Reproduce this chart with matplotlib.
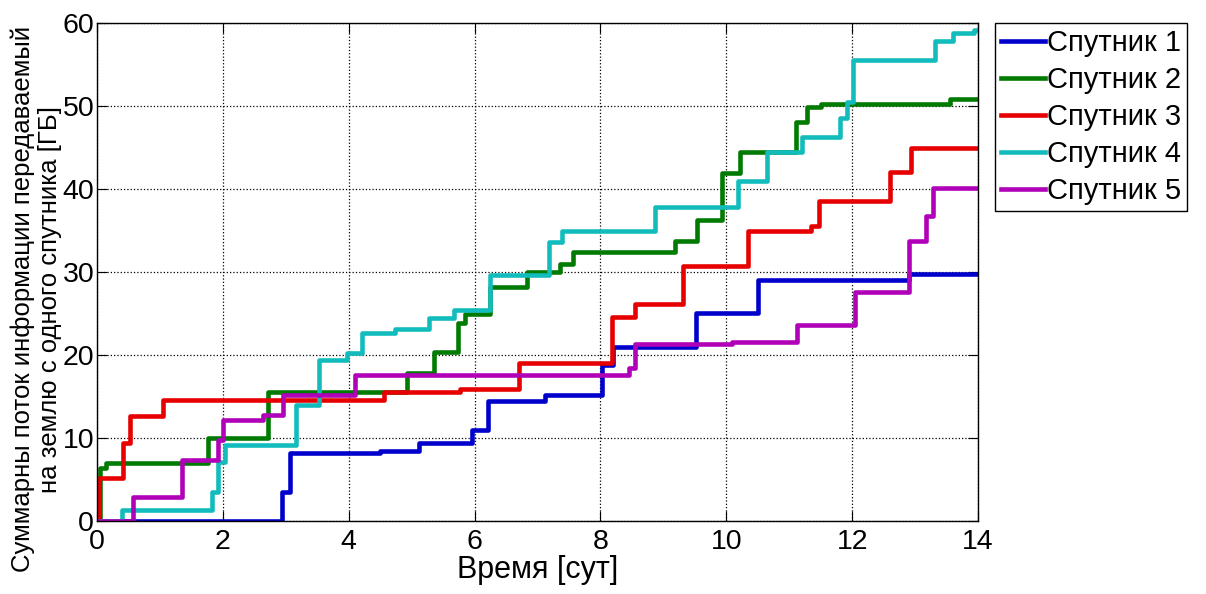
import matplotlib
matplotlib.use('Agg')
import matplotlib.pyplot as plt

plt.rcParams['font.family'] = ['Liberation Sans', 'DejaVu Sans']

# ступенчатые кривые: (время [сут], объём [ГБ])
t1 = [0, 2.94, 3.07, 4.50, 5.11, 5.96, 6.22, 7.12, 8.02, 8.20, 9.52, 10.51, 12.90, 14]
v1 = [0, 3.5, 8.2, 8.4, 9.4, 11.0, 14.4, 15.2, 18.8, 21.0, 25.1, 29.0, 29.8, 29.8]

t2 = [0, 0.05, 0.15, 1.77, 2.72, 4.92, 5.35, 5.74, 5.85, 6.25, 6.83, 7.36, 7.57,
      9.19, 9.53, 9.93, 10.22, 11.10, 11.28, 11.50, 13.56, 14]
v2 = [0, 6.4, 7.0, 10.0, 15.5, 17.8, 20.4, 23.8, 25.0, 28.2, 30.0, 31.0, 32.4,
      33.7, 36.3, 41.9, 44.5, 48.1, 49.9, 50.3, 50.9, 50.9]

t3 = [0, 0.03, 0.42, 0.52, 1.05, 4.56, 5.77, 6.70, 8.18, 8.55, 9.32, 10.34, 11.34,
      11.47, 12.60, 12.93, 14]
v3 = [0, 5.2, 9.4, 12.7, 14.6, 15.6, 15.9, 19.0, 24.6, 26.2, 30.7, 34.9, 35.5,
      38.5, 42.1, 44.9, 44.9]

t4 = [0, 0.39, 1.82, 1.93, 2.04, 3.17, 3.52, 3.97, 4.21, 4.74, 5.27, 5.67, 6.25,
      7.18, 7.39, 8.87, 10.18, 10.65, 11.20, 11.81, 11.92, 12.01, 13.32, 13.61, 13.93, 14]
v4 = [0, 1.3, 3.5, 7.1, 9.2, 14.0, 19.4, 20.3, 22.6, 23.1, 24.4, 25.4, 29.6,
      33.6, 34.9, 37.8, 41.0, 44.5, 46.3, 48.5, 50.5, 55.6, 57.8, 58.8, 59.2, 59.2]

t5 = [0, 0.58, 1.35, 1.93, 2.01, 2.64, 2.96, 4.10, 8.45, 8.55, 10.09, 11.12, 12.05,
      12.90, 13.18, 13.29, 14]
v5 = [0, 2.9, 7.3, 9.7, 12.2, 12.8, 15.2, 17.6, 18.4, 21.3, 21.6, 23.6, 27.6,
      33.7, 36.7, 40.1, 40.1]

names = ['Спутник 1', 'Спутник 2', 'Спутник 3', 'Спутник 4', 'Спутник 5']
colors = ['#0000cc', '#007a00', '#e60000', '#12bcbc', '#b000b8']

fig = plt.figure(figsize=(12.06, 5.94), dpi=100)
ax = fig.add_axes([97/1206, 1 - 521/594, 881/1206, 498/594])

for t, v, nm, c in zip([t1, t2, t3, t4, t5], [v1, v2, v3, v4, v5], names, colors):
    ax.step(t, v, where='post', color=c, lw=3.3, label=nm)

ax.set_xlim(0, 14)
ax.set_ylim(0, 60)
ax.set_xticks(range(0, 15, 2))
ax.set_yticks(range(0, 61, 10))
ax.grid(True, ls=':', color='k', lw=0.9)
ax.tick_params(direction='in', length=7, top=True, right=True, labelsize=20.5, pad=2)
ax.tick_params(axis='x', pad=6)
for s in ax.spines.values():
    s.set_linewidth(1.0)

ax.set_xlabel('Время [сут]', fontsize=22, labelpad=0)
ax.set_ylabel('Суммарны поток информации передаваемый\nна землю с одного спутника [ГБ]',
              fontsize=18.5, labelpad=1, linespacing=1.12)
ax.yaxis.set_label_coords(-0.04, 0.445)

leg = fig.legend(loc='upper left', bbox_to_anchor=(995/1206, 1 - 23/594),
                 fontsize=21, handlelength=1.5, handletextpad=0.08,
                 borderpad=0.2, labelspacing=0.31, borderaxespad=0,
                 fancybox=False, framealpha=1)
leg.get_frame().set_edgecolor('k')
leg.get_frame().set_linewidth(1.0)

fig.savefig('out.png', dpi=100)
